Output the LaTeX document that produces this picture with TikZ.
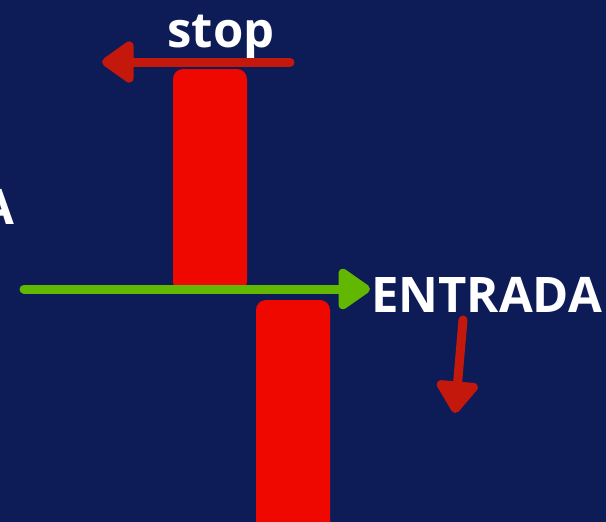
\documentclass[tikz,border=0pt]{standalone}
\usepackage{fontspec}
\setmainfont{Open Sans}
\usetikzlibrary{arrows.meta,positioning}
\definecolor{navy}{HTML}{0D1C57}
\definecolor{candlered}{HTML}{EE0800}
\definecolor{arrowred}{HTML}{C4180C}
\definecolor{entrygreen}{HTML}{62B800}
\tikzset{
  candle/.style = {fill=candlered, rounded corners=10pt, minimum width=74pt, inner sep=0pt},
  label text/.style = {text=white, font=\fontsize{49}{49}\bfseries\selectfont, inner sep=0pt},
  red arrow/.style = {draw=arrowred, line width=9pt, line cap=round,
                      -{Triangle[length=35pt,width=47pt,round]}},
  green arrow/.style = {draw=entrygreen, line width=9pt, line cap=round,
                        -{Triangle[length=35pt,width=46pt,round]}}
}
\begin{document}
\begin{tikzpicture}[x=1pt, y=-1pt]
     \useasboundingbox[fill=navy] (0,0) rectangle (606,522);
     % the candles
     \node (candle up) [candle, minimum height=223pt] at (210,180.5) {};
     \node (candle down) [candle, minimum height=232pt] at (293,416) {};
     % the labels
     \node (stop) [label text, anchor=base] at (221,47) {stop};
     \node (entrada) [label text, anchor=base west] at (371,312) {ENTRADA};
     \node (left label) [label text, anchor=base east] at (15,224) {A};
     % the arrow ends
     \coordinate (stop start) at (290,62);
     \coordinate (stop end) at (102,62);
     \coordinate (entry start) at (24,289);
     \coordinate (entry end) at (370,289);
     \coordinate (down start) at (463,320);
     \coordinate (down end) at (455,413);
     % the arrows
     \draw[red arrow] (stop start) to (stop end);
     \draw[green arrow] (entry start) to (entry end);
     \draw[red arrow] (down start) to (down end);
\end{tikzpicture}
\end{document}
